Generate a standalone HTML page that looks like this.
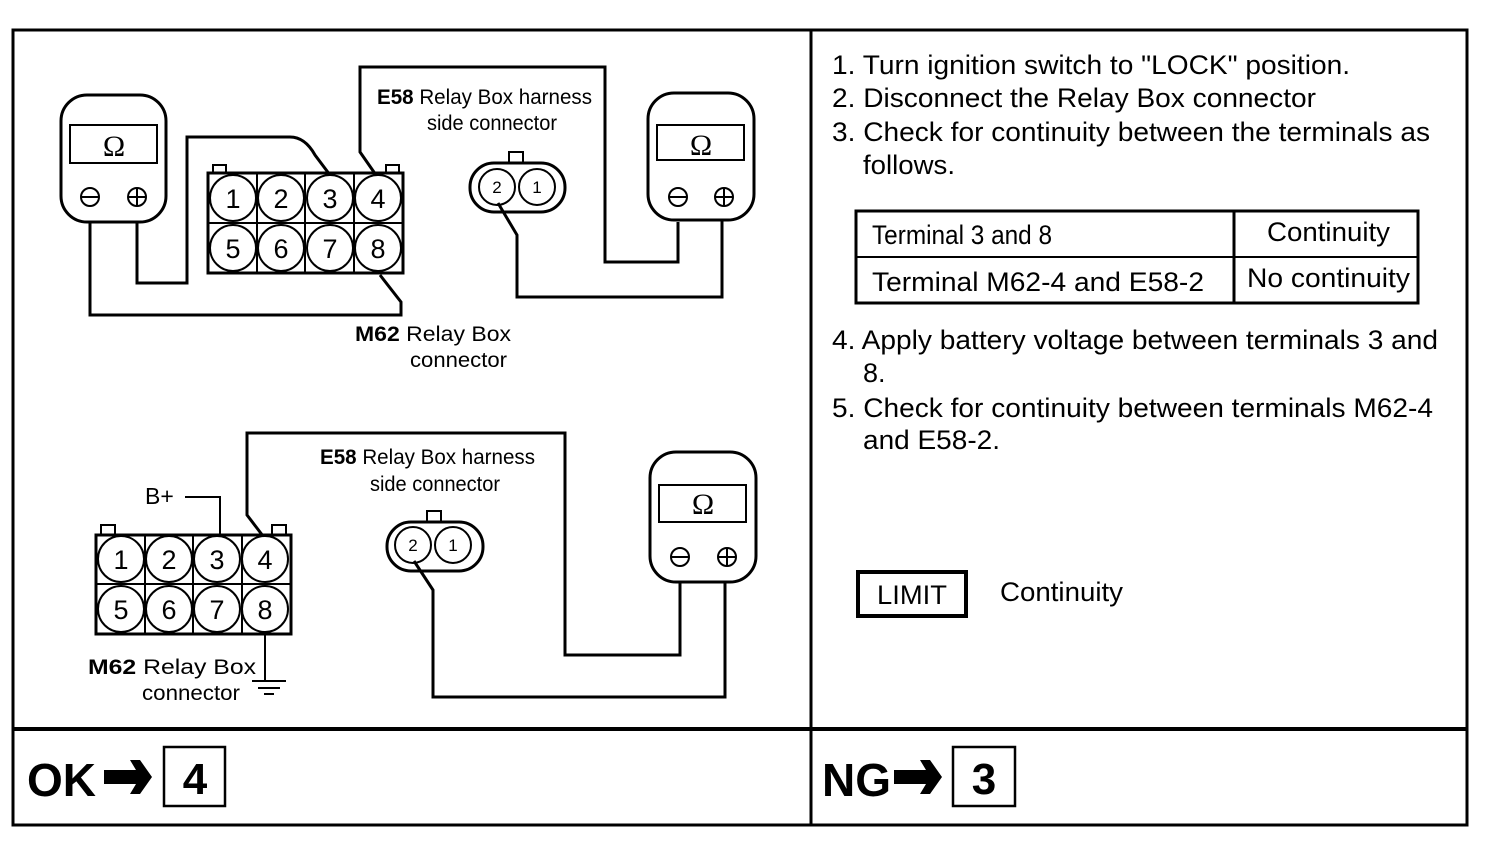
<!DOCTYPE html>
<html><head><meta charset="utf-8"><style>
html,body{margin:0;padding:0;background:#fff;}
svg{display:block;}
text{font-family:"Liberation Sans",sans-serif;fill:#000;}
</style></head><body>
<svg width="1504" height="860" viewBox="0 0 1504 860" xmlns="http://www.w3.org/2000/svg">
<g fill="none" stroke="#000" stroke-width="3">
<rect x="13" y="30" width="1454" height="795"/>
<line x1="811" y1="30" x2="811" y2="825"/>
<line x1="13" y1="729" x2="1467" y2="729" stroke-width="4"/>

<rect x="61" y="95" width="105" height="127" rx="26"/>
<rect x="70" y="125" width="87" height="38" stroke-width="2"/>
<circle cx="90" cy="197" r="9" stroke-width="2"/><line x1="81" y1="197" x2="99" y2="197" stroke-width="2"/>
<circle cx="137" cy="197" r="9" stroke-width="2"/><line x1="128" y1="197" x2="146" y2="197" stroke-width="2"/><line x1="137" y1="188" x2="137" y2="206" stroke-width="2"/>
<polyline points="90,222 90,315 401,315 401,302 380,275"/>
<path d="M137,222 L137,283 L187,283 L187,137 L290,137 Q305,137 315,155 L330,175"/>
<rect x="208" y="173" width="195" height="100"/>
<line x1="208" y1="223" x2="403" y2="223" stroke-width="2"/>
<line x1="257" y1="173" x2="257" y2="273" stroke-width="2"/>
<line x1="305" y1="173" x2="305" y2="273" stroke-width="2"/>
<line x1="354" y1="173" x2="354" y2="273" stroke-width="2"/>
<rect x="213" y="165" width="13" height="8" stroke-width="2"/>
<rect x="386" y="165" width="13" height="8" stroke-width="2"/>
<g stroke-width="2">
<circle cx="233" cy="198" r="23"/><circle cx="281" cy="198" r="23"/><circle cx="330" cy="198" r="23"/><circle cx="378" cy="198" r="23"/>
<circle cx="233" cy="248" r="23"/><circle cx="281" cy="248" r="23"/><circle cx="330" cy="248" r="23"/><circle cx="378" cy="248" r="23"/>
</g>
<polyline points="376,175 360,152 360,67 605,67 605,262 678,262 678,222"/>
<rect x="648" y="93" width="106" height="127" rx="26"/>
<rect x="657" y="125" width="87" height="35" stroke-width="2"/>
<circle cx="678" cy="197" r="9" stroke-width="2"/><line x1="669" y1="197" x2="687" y2="197" stroke-width="2"/>
<circle cx="724" cy="197" r="9" stroke-width="2"/><line x1="715" y1="197" x2="733" y2="197" stroke-width="2"/><line x1="724" y1="188" x2="724" y2="206" stroke-width="2"/>
<polyline points="722,220 722,297 517,297 517,235 498,203"/>
<rect x="470" y="163" width="95" height="49" rx="24"/>
<circle cx="497" cy="187" r="18" stroke-width="2"/><circle cx="537" cy="187" r="18" stroke-width="2"/>
<rect x="509" y="152" width="14" height="11" stroke-width="2"/>

<rect x="96" y="535" width="195" height="99"/>
<line x1="96" y1="584" x2="291" y2="584" stroke-width="2"/>
<line x1="145" y1="535" x2="145" y2="634" stroke-width="2"/>
<line x1="193" y1="535" x2="193" y2="634" stroke-width="2"/>
<line x1="242" y1="535" x2="242" y2="634" stroke-width="2"/>
<rect x="101" y="525" width="14" height="10" stroke-width="2"/>
<rect x="272" y="525" width="14" height="10" stroke-width="2"/>
<g stroke-width="2">
<circle cx="121" cy="559" r="23"/><circle cx="169" cy="559" r="23"/><circle cx="217" cy="559" r="23"/><circle cx="265" cy="559" r="23"/>
<circle cx="121" cy="609" r="23"/><circle cx="169" cy="609" r="23"/><circle cx="217" cy="609" r="23"/><circle cx="265" cy="609" r="23"/>
</g>
<polyline points="185,497 220,497 220,535" stroke-width="2"/>
<polyline points="263,536 247,515 247,433 565,433 565,655 680,655 680,582"/>
<line x1="265" y1="634" x2="265" y2="681" stroke-width="2"/>
<line x1="252" y1="681" x2="286" y2="681" stroke-width="2"/>
<line x1="258" y1="688" x2="280" y2="688" stroke-width="2"/>
<line x1="264" y1="694" x2="274" y2="694" stroke-width="2"/>
<rect x="650" y="452" width="106" height="130" rx="26"/>
<rect x="659" y="485" width="87" height="37" stroke-width="2"/>
<circle cx="680" cy="557" r="9" stroke-width="2"/><line x1="671" y1="557" x2="689" y2="557" stroke-width="2"/>
<circle cx="727" cy="557" r="9" stroke-width="2"/><line x1="718" y1="557" x2="736" y2="557" stroke-width="2"/><line x1="727" y1="548" x2="727" y2="566" stroke-width="2"/>
<polyline points="725,582 725,697 433,697 433,590 414,561"/>
<rect x="387" y="522" width="96" height="49" rx="24"/>
<circle cx="413" cy="545" r="18" stroke-width="2"/><circle cx="453" cy="545" r="18" stroke-width="2"/>
<rect x="427" y="511" width="14" height="11" stroke-width="2"/>

<rect x="856" y="211" width="562" height="92" stroke-width="3"/>
<line x1="856" y1="257" x2="1418" y2="257" stroke-width="2"/>
<line x1="1234" y1="211" x2="1234" y2="303" stroke-width="3"/>
<rect x="858" y="572" width="108" height="44" stroke-width="4"/>
<rect x="164" y="747" width="61" height="59" stroke-width="2.5"/>
<rect x="953" y="747" width="62" height="59" stroke-width="2.5"/>
</g>

<g font-size="30" text-anchor="middle">
<text x="114" y="156" style="font-family:'Liberation Serif',serif">Ω</text>
<text x="701" y="155" style="font-family:'Liberation Serif',serif">Ω</text>
<text x="703" y="514" style="font-family:'Liberation Serif',serif">Ω</text>
</g>
<g font-size="27" text-anchor="middle">
<text x="233" y="208">1</text><text x="281" y="208">2</text><text x="330" y="208">3</text><text x="378" y="208">4</text>
<text x="233" y="258">5</text><text x="281" y="258">6</text><text x="330" y="258">7</text><text x="378" y="258">8</text>
<text x="121" y="569">1</text><text x="169" y="569">2</text><text x="217" y="569">3</text><text x="265" y="569">4</text>
<text x="121" y="619">5</text><text x="169" y="619">6</text><text x="217" y="619">7</text><text x="265" y="619">8</text>
</g>
<g font-size="17" text-anchor="middle">
<text x="497" y="193">2</text><text x="537" y="193">1</text>
<text x="413" y="551">2</text><text x="453" y="551">1</text>
</g>
<g font-size="21">
<text x="377" y="104" textLength="215" lengthAdjust="spacingAndGlyphs"><tspan font-weight="bold">E58</tspan>  Relay Box harness</text>
<text x="427" y="130" textLength="130" lengthAdjust="spacingAndGlyphs">side connector</text>
<text x="355" y="341" textLength="156" lengthAdjust="spacingAndGlyphs"><tspan font-weight="bold">M62</tspan>  Relay Box</text>
<text x="410" y="367" textLength="97" lengthAdjust="spacingAndGlyphs">connector</text>
<text x="320" y="464" textLength="215" lengthAdjust="spacingAndGlyphs"><tspan font-weight="bold">E58</tspan>  Relay Box harness</text>
<text x="370" y="491" textLength="130" lengthAdjust="spacingAndGlyphs">side connector</text>
<text x="88" y="674" textLength="168" lengthAdjust="spacingAndGlyphs"><tspan font-weight="bold">M62</tspan>    Relay Box</text>
<text x="142" y="700" textLength="98" lengthAdjust="spacingAndGlyphs">connector</text>
<text x="145" y="504" font-size="23">B+</text>
</g>

<g font-size="27">
<text x="832" y="74" textLength="518" lengthAdjust="spacingAndGlyphs">1. Turn ignition switch to "LOCK" position.</text>
<text x="832" y="107" textLength="484" lengthAdjust="spacingAndGlyphs">2. Disconnect the Relay Box connector</text>
<text x="832" y="141" textLength="598" lengthAdjust="spacingAndGlyphs">3. Check for continuity between the terminals as</text>
<text x="863" y="174" textLength="92" lengthAdjust="spacingAndGlyphs">follows.</text>
<text x="872" y="244" textLength="180" lengthAdjust="spacingAndGlyphs">Terminal 3 and 8</text>
<text x="1267" y="241" textLength="123" lengthAdjust="spacingAndGlyphs">Continuity</text>
<text x="872" y="291" textLength="332" lengthAdjust="spacingAndGlyphs">Terminal M62-4 and E58-2</text>
<text x="1247" y="287" textLength="163" lengthAdjust="spacingAndGlyphs">No continuity</text>
<text x="832" y="349" textLength="606" lengthAdjust="spacingAndGlyphs">4. Apply battery voltage between terminals 3 and</text>
<text x="863" y="382">8.</text>
<text x="832" y="417" textLength="601" lengthAdjust="spacingAndGlyphs">5. Check for continuity between terminals M62-4</text>
<text x="863" y="449" textLength="137" lengthAdjust="spacingAndGlyphs">and E58-2.</text>
<text x="877" y="604" textLength="70" lengthAdjust="spacingAndGlyphs">LIMIT</text>
<text x="1000" y="601" textLength="123" lengthAdjust="spacingAndGlyphs">Continuity</text>
</g>

<g font-weight="bold" font-size="46">
<text x="27" y="796">OK</text>
<text x="822" y="796">NG</text>
<text x="195" y="794" text-anchor="middle" font-size="44">4</text>
<text x="984" y="794" text-anchor="middle" font-size="44">3</text>
</g>
<path d="M104,770 L136,770 L130,760 L140,760 L152,777 L140,794 L130,794 L136,784 L104,784 Z" fill="#000"/>
<path d="M894,770 L926,770 L920,760 L930,760 L942,777 L930,794 L920,794 L926,784 L894,784 Z" fill="#000"/>
</svg>
</body></html>
